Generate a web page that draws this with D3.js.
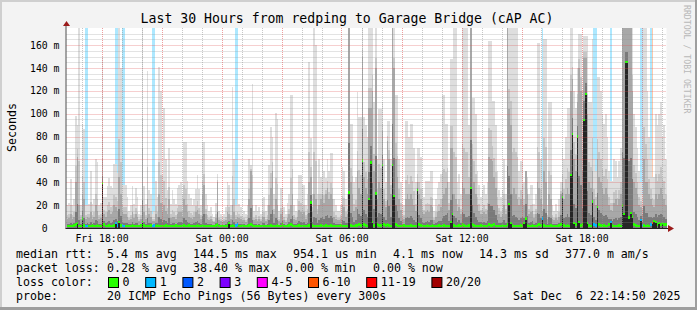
<!DOCTYPE html>
<html>
<head>
<meta charset="utf-8">
<script src="https://cdn.jsdelivr.net/npm/d3@7"></script>
<style>
  body { margin: 0; background: #f3f3f3; }
  text { font-family: "DejaVu Sans Mono", monospace; white-space: pre; }
</style>
</head>
<body>
<div class="chart"></div>
<script>
var width = 697,
    height = 310;

var plotLeft = 66.5, plotRight = 666.5, plotTop = 28, plotBottom = 228;

// time range of the graph, one sample every 300 s
var startTime = new Date(2025, 11, 5, 16, 15, 0);
var endTime = new Date(2025, 11, 6, 22, 15, 0);
var stepSec = 300;

// smoke: highest ping per step (ms, clipped at the top of the graph)
var smokeTop = [
  20,22,43,20,25,98,90,175,20,91,87,20,
  20,21,50,21,25,60,58,20,22,150,27,27,
  37,44,37,35,56,56,48,175,140,38,38,38,
  27,15,20,37,21,35,27,12,20,175,37,21,
  137,33,30,12,15,41,27,141,120,46,105,60,
  33,70,21,33,25,21,35,38,40,30,75,75,
  41,30,26,20,25,34,46,34,20,75,75,30,
  20,15,18,12,10,22,47,15,12,10,12,18,
  40,38,20,123,60,20,25,21,18,12,15,12,
  20,60,55,126,15,20,15,18,12,25,27,15,
  20,55,88,80,30,101,95,15,35,35,18,12,
  22,30,116,116,20,15,25,46,46,38,38,20,
  30,145,79,30,175,160,30,60,45,70,50,44,
  60,50,66,66,25,20,15,15,20,53,50,25,
  30,175,91,91,40,45,119,97,97,175,97,90,
  80,175,175,175,110,175,60,104,104,110,60,40,
  94,94,60,175,175,116,116,60,40,20,20,94,
  94,80,91,91,70,40,70,70,62,35,27,41,
  41,41,50,50,15,25,35,40,47,116,116,91,
  91,40,148,148,175,175,40,47,30,175,175,175,
  175,90,175,114,114,100,50,38,27,33,38,30,
  40,164,164,111,111,90,50,33,27,33,60,30,
  175,175,175,175,175,175,175,50,59,59,40,50,
  45,30,38,38,21,30,162,162,60,40,165,165,
  20,110,110,20,15,21,15,25,40,70,60,80,
  105,105,175,175,120,105,140,170,170,120,168,168,
  168,110,110,165,60,50,132,132,120,100,91,100,
  80,50,41,41,60,59,45,59,70,175,175,175,
  175,175,175,175,100,88,70,50,40,30,175,175,
  120,80,60,45,45,100,90,100,110,80,90,60
];

// smoke: upper part of the dense band per step (ms)
var smokeMid = [
  8,9,12,8,10,40,62,20,8,30,25,8,
  10,9,14,8,10,20,15,8,9,60,12,10,
  14,16,12,14,20,18,15,45,30,14,12,12,
  10,7,8,14,9,12,10,6,8,70,14,8,
  25,12,10,6,6,12,10,30,22,14,20,15,
  12,25,9,10,10,8,12,14,14,10,25,20,
  14,10,9,8,10,14,16,12,8,30,38,12,
  8,7,8,6,5,9,40,7,6,5,6,7,
  14,12,8,20,14,8,10,9,8,6,7,5,
  8,25,50,20,7,8,6,8,6,10,10,6,
  8,20,35,50,12,25,20,6,12,14,7,5,
  9,12,20,30,8,7,10,16,14,12,14,8,
  12,40,45,14,30,25,12,20,25,30,22,30,
  35,25,30,25,10,8,7,7,8,20,18,10,
  12,175,40,30,15,18,50,35,30,150,45,35,
  30,105,105,120,50,140,25,40,35,85,25,18,
  76,60,30,175,140,60,45,25,16,8,8,25,
  30,25,30,25,20,15,40,30,25,14,12,14,
  16,14,20,18,7,10,14,15,18,25,30,35,
  40,16,70,70,30,25,15,18,12,40,35,30,
  30,30,175,60,40,30,20,15,12,12,14,12,
  16,62,60,59,45,35,20,12,10,12,20,12,
  175,104,90,30,35,30,25,20,25,30,20,50,
  30,12,14,15,9,12,40,35,25,15,50,40,
  8,30,25,8,7,9,7,10,30,40,25,30,
  35,30,120,130,60,50,110,140,120,50,149,149,
  100,40,35,50,25,20,60,45,40,35,30,35,
  30,20,16,15,22,25,20,25,30,175,175,175,
  175,175,175,120,40,35,30,20,18,12,60,40,
  40,30,25,20,18,30,25,30,35,30,25,20
];

// median rtt per step (ms)
var median = [
  1.5,1.5,1.5,1.5,2,3,4,1.5,1.5,8,2,1.5,
  1.5,1.5,1.5,2,1.5,1.5,2,1.5,1.5,39,3,1.5,
  1.5,2,1.5,1.5,2,4,2,5,2,2,1.5,1.5,
  1.5,1.5,1.5,2,1.5,1.5,1.5,1.5,2,5,2,1.5,
  1.5,1.5,2,1.5,2,1.5,2,1.5,1.5,1.5,1.5,2,
  1.5,1.5,1.5,1.5,1.5,2,1.5,1.5,1.5,1.5,2,1.5,
  1.5,2,1.5,1.5,1.5,1.5,2,1.5,1.5,2,1.5,1.5,
  1.5,1.5,1.5,1.5,1.5,2,3,1.5,1.5,1.5,1.5,1.5,
  2,4,1.5,2,1.5,2,3,1.5,1.5,2,1.5,1.5,
  1.5,2,3,2,1.5,1.5,1.5,1.5,1.5,1.5,1.5,1.5,
  1.5,1.5,2,1.5,1.5,1.5,2,1.5,1.5,3,1.5,1.5,
  1.5,2,3,2,1.5,1.5,1.5,2,1.5,1.5,1.5,1.5,
  1.5,2,22,2,1.5,1.5,1.5,1.5,2,1.5,1.5,2,
  1.5,1.5,2,1.5,1.5,1.5,1.5,1.5,2,1.5,1.5,1.5,
  1.5,31,2,1.5,1.5,2,2,3,2,59,3,2,
  1.5,25,57,5,2,30,3,2,2,55,3,2,
  3,2,1.5,55,28,3,2,1.5,1.5,1.5,2,1.5,
  1.5,1.5,2,1.5,1.5,1.5,33,3,2,1.5,1.5,1.5,
  2,1.5,1.5,2,1.5,1.5,1.5,2,1.5,1.5,2,1.5,
  1.5,1.5,5,12,2,1.5,1.5,2,1.5,3,2,1.5,
  1.5,2,35,3,2,1.5,1.5,1.5,2,1.5,1.5,1.5,
  1.5,3,2,2,3,1.5,1.5,1.5,1.5,2,1.5,1.5,
  3,21,4,2,1.5,1.5,1.5,1.5,2,1.5,4,8,
  2,1.5,1.5,2,1.5,1.5,2,3,2,8,2,1.5,
  1.5,1.5,2,1.5,1.5,1.5,1.5,2,3,27,2,1.5,
  2,1.5,46,82,4,3,80,5,2,3,94.5,117,
  4,2,1.5,23,3,2,18,3,2,1.5,2,1.5,
  1.5,3,5,2,1.5,1.5,1.5,2,1.5,19.5,12,145,
  145,9,13,10,3,2,1.5,1.5,7,2,2,1.5,
  2,1.5,3,4,6,5,3,4,3,4,3,3
];

// steps with packet loss and how many of the 20 pings were lost
var lossSteps  = [11, 12, 29, 30, 33, 34, 51, 52, 101, 102, 285, 316, 317, 326, 344, 345, 350, 351];
var lossCounts = [1,  1,  1,  1,  1,  1,  1,  1,  1,   1,   1,   1,   1,   1,   1,   1,   1,   7];

var lossLabels = ["0", "1", "2", "3", "4-5", "6-10", "11-19", "20/20"];
var lossColors = ["#26ff00", "#00b8ff", "#0059ff", "#7e00ff", "#ff00ff", "#ff5500", "#ff0000", "#a10000"];

var yTicks = [0, 20, 40, 60, 80, 100, 120, 140, 160];

function lossBin(n) {
  if (n <= 3) return n;
  if (n <= 5) return 4;
  if (n <= 10) return 5;
  if (n <= 19) return 6;
  return 7;
}

var svg = d3.select(".chart")
  .append("svg")
    .attr("width", width)
    .attr("height", height);

// background and 3d frame
svg.append("rect").attr("width", width).attr("height", height).attr("fill", "#f3f3f3");
svg.append("rect").attr("width", width).attr("height", 2).attr("fill", "#cfcfcf");
svg.append("rect").attr("width", 2).attr("height", height).attr("fill", "#cfcfcf");
svg.append("rect").attr("x", width - 2).attr("width", 2).attr("height", height).attr("fill", "#9e9e9e");
svg.append("rect").attr("y", height - 3).attr("width", width).attr("height", 3).attr("fill", "#9e9e9e");

svg.append("rect")
  .attr("x", plotLeft).attr("y", plotTop)
  .attr("width", plotRight - plotLeft).attr("height", plotBottom - plotTop)
  .attr("fill", "#ffffff");

var x = d3.scaleTime()
  .domain([startTime, endTime])
  .range([plotLeft, plotRight]);

var y = d3.scaleLinear()
  .domain([0, 175])
  .range([plotBottom, plotTop]);

var lossByStep = {};
lossSteps.forEach(function(s, i) { lossByStep[s] = lossCounts[i]; });

var steps = d3.range(smokeTop.length).map(function(i) {
  var t0 = new Date(+startTime + i * stepSec * 1000);
  var t1 = new Date(+t0 + stepSec * 1000);
  return {
    x0: x(t0), x1: x(t1),
    top: Math.min(smokeTop[i], 175),
    mid: Math.min(smokeMid[i], 175),
    med: median[i],
    loss: lossByStep[i] || 0
  };
});

var g = svg.append("g").attr("shape-rendering", "crispEdges");

// loss background bars
g.selectAll(".lossbar")
  .data(steps.filter(function(d) { return d.loss > 0; }))
  .enter().append("rect")
    .attr("x", function(d) { return d.x0; })
    .attr("width", function(d) { return d.x1 - d.x0; })
    .attr("y", plotTop)
    .attr("height", plotBottom - plotTop)
    .attr("fill", function(d) { return d3.interpolateRgb("#ffffff", lossColors[lossBin(d.loss)])(0.32); });

// smoke layers, lightest first
function smokeLayer(fill, level) {
  g.selectAll(null)
    .data(steps)
    .enter().append("rect")
      .attr("x", function(d) { return d.x0; })
      .attr("width", function(d) { return d.x1 - d.x0; })
      .attr("y", function(d) { return y(level(d)); })
      .attr("height", function(d) { return plotBottom - y(level(d)); })
      .attr("fill", fill);
}
smokeLayer("#dedede", function(d) { return d.top; });
smokeLayer("#c6c6c6", function(d) { return d.mid + (d.top - d.mid) * 0.25; });
smokeLayer("#a8a8a8", function(d) { return d.mid; });
smokeLayer("#7a7a7a", function(d) { return d.med + (d.mid - d.med) * 0.3; });
smokeLayer("#262626", function(d) { return d.med >= 4 ? d.med : 0; });

// grid on top of the data
var grid = svg.append("g");
d3.range(5, 175, 5).forEach(function(v) {
  grid.append("line")
    .attr("x1", plotLeft).attr("x2", plotRight)
    .attr("y1", Math.round(y(v)) + 0.5).attr("y2", Math.round(y(v)) + 0.5)
    .attr("stroke", v % 20 === 0 ? "rgba(224,80,80,0.55)" : "rgba(143,143,143,0.5)")
    .attr("stroke-dasharray", "1,1");
});
d3.timeHour.range(startTime, endTime).forEach(function(t) {
  var xx = Math.round(x(t)) + 0.5;
  grid.append("line")
    .attr("x1", xx).attr("x2", xx)
    .attr("y1", plotTop).attr("y2", plotBottom)
    .attr("stroke", t.getHours() % 3 === 0 ? "rgba(224,80,80,0.55)" : "rgba(143,143,143,0.5)")
    .attr("stroke-dasharray", "1,1");
});

// median marks coloured by loss
g.selectAll(".median")
  .data(steps)
  .enter().append("rect")
    .attr("x", function(d) { return d.x0; })
    .attr("width", function(d) { return d.x1 - d.x0; })
    .attr("y", function(d) { return Math.min(y(d.med) - 1.5, plotBottom - 3.5); })
    .attr("height", 2.5)
    .attr("fill", function(d) { return lossColors[lossBin(d.loss)]; });

// axes
svg.append("line")
  .attr("x1", plotLeft - 0.5).attr("x2", plotLeft - 0.5)
  .attr("y1", plotBottom + 0.5).attr("y2", 24)
  .attr("stroke", "#505050");
svg.append("line")
  .attr("x1", plotLeft - 1).attr("x2", 669)
  .attr("y1", plotBottom + 0.5).attr("y2", plotBottom + 0.5)
  .attr("stroke", "#202020");
svg.append("path")
  .attr("d", "M63,26L70,26L66.5,21Z")
  .attr("fill", "#9b1b1b");
svg.append("path")
  .attr("d", "M668,225L668,232L674,228.5Z")
  .attr("fill", "#9b1b1b");

var xAxis = d3.axisBottom(x)
  .ticks(d3.timeHour.every(6))
  .tickFormat(d3.timeFormat("%a %H:%M"))
  .tickSize(0)
  .tickPadding(7);
var xg = svg.append("g")
  .attr("transform", "translate(0," + plotBottom + ")")
  .call(xAxis);
xg.select(".domain").remove();
xg.selectAll("text")
  .style("font-family", '"DejaVu Sans Mono", monospace')
  .style("font-size", "9.8px")
  .attr("fill", "#000");

var yAxis = d3.axisLeft(y)
  .tickValues(yTicks)
  .tickFormat(function(v) { return v === 0 ? "0  " : v + " m"; })
  .tickSize(0)
  .tickPadding(7);
var yg = svg.append("g")
  .attr("transform", "translate(" + plotLeft + ",0)")
  .call(yAxis);
yg.select(".domain").remove();
yg.selectAll("text")
  .style("font-family", '"DejaVu Sans Mono", monospace')
  .style("font-size", "9.8px")
  .style("white-space", "pre")
  .attr("fill", "#000");

// title, axis label and watermark
svg.append("text")
  .attr("x", 347).attr("y", 23)
  .attr("text-anchor", "middle")
  .style("font-size", "13.2px")
  .text("Last 30 Hours from redping to Garage Bridge (cAP AC)");

svg.append("text")
  .attr("transform", "translate(15.5,127.5) rotate(-90)")
  .attr("text-anchor", "middle")
  .style("font-size", "11.6px")
  .text("Seconds");

svg.append("text")
  .attr("transform", "translate(684,5) rotate(90)")
  .style("font-size", "8.2px")
  .attr("fill", "#b8b8b8")
  .text("RRDTOOL / TOBI OETIKER");

// legend
var legendRows = [
  [[16, "median rtt:"], [107, "5.4 ms avg"], [193, "144.5 ms max"], [293, "954.1 us min"],
   [393, "4.1 ms now"], [479, "14.3 ms sd"], [565, "377.0 m am/s"]],
  [[16, "packet loss:"], [107, "0.28 % avg"], [193, "38.40 % max"], [286, "0.00 % min"], [373, "0.00 % now"]],
  [[16, "loss color:"]],
  [[16, "probe:"], [107, "20 ICMP Echo Pings (56 Bytes) every 300s"], [513, "Sat Dec  6 22:14:50 2025"]]
];
legendRows.forEach(function(row, r) {
  row.forEach(function(seg) {
    svg.append("text")
      .attr("x", seg[0]).attr("y", 258 + r * 14)
      .style("font-size", "11.6px")
      .text(seg[1]);
  });
});

var cursor = 108;
lossLabels.forEach(function(label, i) {
  svg.append("rect")
    .attr("x", cursor + 0.5).attr("y", 277.5)
    .attr("width", 10).attr("height", 10)
    .attr("fill", lossColors[i])
    .attr("stroke", "#000");
  svg.append("text")
    .attr("x", cursor + 14.6).attr("y", 286)
    .style("font-size", "11.6px")
    .text(label);
  cursor += 14.6 + label.length * 7 + 15.6;
});
</script>
</body>
</html>
